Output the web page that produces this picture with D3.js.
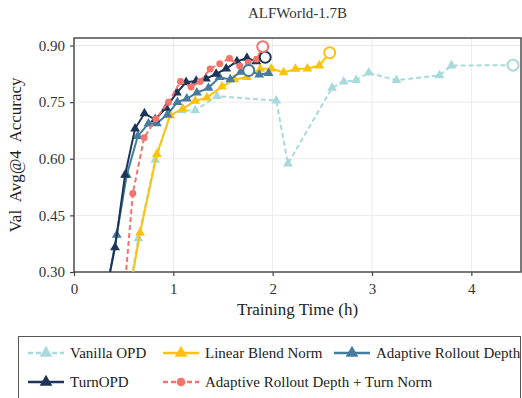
<!DOCTYPE html>
<html>
<head>
<meta charset="utf-8">
<script src="https://cdn.jsdelivr.net/npm/d3@7"></script>
<style>
  body { margin: 0; background: #fff; }
  svg { display: block; }
</style>
</head>
<body>
<svg id="chart" width="522" height="398" font-family="Liberation Serif"></svg>
<script>
// values (hours, accuracy)
const vanillaX = [0.524, 0.648, 0.817, 0.968, 1.086, 1.22, 1.439, 2.036, 2.154, 2.598, 2.715, 2.84, 2.967, 3.246, 3.679, 3.80, 4.42]
const vanillaY = [0.20, 0.389, 0.597, 0.715, 0.728, 0.728, 0.766, 0.754, 0.587, 0.788, 0.804, 0.808, 0.828, 0.808, 0.821, 0.847, 0.848]

const blendX = [0.528, 0.665, 0.834, 0.968, 1.096, 1.22, 1.338, 1.489, 1.613, 1.741, 1.875, 1.986, 2.11, 2.228, 2.349, 2.47, 2.574]
const blendY = [0.20, 0.404, 0.612, 0.715, 0.733, 0.753, 0.762, 0.791, 0.810, 0.816, 0.838, 0.839, 0.829, 0.838, 0.839, 0.847, 0.881]

const depthX = [0.294, 0.430, 0.531, 0.642, 0.749, 0.834, 0.940, 1.041, 1.136, 1.237, 1.354, 1.465, 1.573, 1.678, 1.759, 1.865, 1.959]
const depthY = [0.20, 0.398, 0.557, 0.660, 0.693, 0.694, 0.717, 0.750, 0.759, 0.775, 0.788, 0.816, 0.810, 0.830, 0.834, 0.823, 0.827]

const turnX = [0.286, 0.413, 0.514, 0.615, 0.709, 0.817, 0.927, 1.035, 1.129, 1.23, 1.328, 1.431, 1.532, 1.640, 1.741, 1.835, 1.925]
const turnY = [0.20, 0.365, 0.557, 0.680, 0.720, 0.704, 0.735, 0.775, 0.803, 0.806, 0.812, 0.825, 0.839, 0.858, 0.867, 0.858, 0.869]

const bothX = [0.491, 0.592, 0.706, 0.824, 0.951, 1.072, 1.179, 1.270, 1.371, 1.467, 1.565, 1.668, 1.754, 1.838, 1.900]
const bothY = [0.20, 0.508, 0.656, 0.706, 0.750, 0.805, 0.790, 0.805, 0.838, 0.852, 0.866, 0.846, 0.855, 0.864, 0.897]

// index of the point marked with an open circle (best value)
const bestIdx = [16, 16, 14, 16, 14]

const seriesNames = ['Vanilla OPD', 'Linear Blend Norm', 'Adaptive Rollout Depth', 'TurnOPD', 'Adaptive Rollout Depth + Turn Norm']
const colors = ['#a8dadc', '#ffc20a', '#457b9d', '#1d3557', '#f4736b']
const xTicks = [0, 1, 2, 3, 4]
const yTicks = [0.30, 0.45, 0.60, 0.75, 0.90]

const FONT = 'Liberation Serif'

const series = [
  { xs: vanillaX, ys: vanillaY, dash: '5,3', marker: 'tri' },
  { xs: blendX, ys: blendY, dash: null, marker: 'tri' },
  { xs: depthX, ys: depthY, dash: null, marker: 'tri' },
  { xs: turnX, ys: turnY, dash: null, marker: 'tri' },
  { xs: bothX, ys: bothY, dash: '5,3', marker: 'dot' }
].map((s, i) => ({
  ...s,
  name: seriesNames[i],
  color: colors[i],
  best: bestIdx[i],
  pts: s.xs.map((x, j) => ({ x, y: s.ys[j] }))
}))

const svg = d3.select('#chart')
const margin = { left: 74, top: 38, right: 1, bottom: 126 }
const W = 522, H = 398
const x = d3.scaleLinear().domain([0, 4.5]).range([margin.left, W - margin.right])
const y = d3.scaleLinear().domain([0.30, 0.92]).range([H - margin.bottom, margin.top])

svg.append('defs').append('clipPath').attr('id', 'plotclip')
  .append('rect')
  .attr('x', x(0)).attr('y', y(0.92))
  .attr('width', x(4.5) - x(0)).attr('height', y(0.30) - y(0.92))

// title
svg.append('text')
  .attr('x', (x(0) + x(4.5)) / 2).attr('y', 18)
  .attr('text-anchor', 'middle')
  .attr('font-family', FONT)
  .attr('font-size', 15).attr('fill', '#333')
  .text('ALFWorld-1.7B')

// grid
const grid = svg.append('g')
grid.selectAll('.gx').data(xTicks).enter().append('line')
  .attr('x1', d => x(d)).attr('x2', d => x(d))
  .attr('y1', y(0.92)).attr('y2', y(0.30))
  .attr('stroke', '#ebebeb').attr('stroke-width', 1)
grid.selectAll('.gy').data(yTicks).enter().append('line')
  .attr('x1', x(0)).attr('x2', x(4.5))
  .attr('y1', d => y(d)).attr('y2', d => y(d))
  .attr('stroke', '#ebebeb').attr('stroke-width', 1)

// axes
const xAxis = svg.append('g')
  .attr('transform', `translate(0,${y(0.30)})`)
  .call(d3.axisBottom(x).tickValues(xTicks).tickFormat(d3.format('d')).tickSize(4).tickPadding(7))
const yAxis = svg.append('g')
  .attr('transform', `translate(${x(0)},0)`)
  .call(d3.axisLeft(y).tickValues(yTicks).tickFormat(d3.format('.2f')).tickSize(4).tickPadding(5))
;[xAxis, yAxis].forEach(a => {
  a.attr('font-family', FONT)
  a.select('.domain').remove()
  a.selectAll('.tick line').attr('stroke', '#444').attr('stroke-width', 1.2)
  a.selectAll('.tick text').attr('fill', '#333').attr('font-size', 15)
})

// frame
svg.append('rect')
  .attr('x', x(0)).attr('y', y(0.92))
  .attr('width', x(4.5) - x(0)).attr('height', y(0.30) - y(0.92))
  .attr('fill', 'none').attr('stroke', '#4d4d4d').attr('stroke-width', 1.5)

svg.append('text')
  .attr('x', (x(0) + x(4.5)) / 2).attr('y', 315)
  .attr('text-anchor', 'middle').attr('font-size', 17).attr('fill', '#222')
  .attr('font-family', FONT)
  .text('Training Time (h)')

svg.append('text')
  .attr('transform', `translate(21,${(y(0.30) + y(0.92)) / 2}) rotate(-90)`)
  .attr('text-anchor', 'middle').attr('font-size', 17).attr('fill', '#222')
  .attr('font-family', FONT)
  .attr('xml:space', 'preserve')
  .text('Val  Avg@4  Accuracy')

const tri = d3.symbol().type(d3.symbolTriangle).size(42)
const dot = d3.symbol().type(d3.symbolCircle).size(38)

const plot = svg.append('g').attr('clip-path', 'url(#plotclip)')
const line = d3.line().x(d => x(d.x)).y(d => y(d.y))

series.forEach(s => {
  const g = plot.append('g')
  g.append('path')
    .datum(s.pts)
    .attr('d', line)
    .attr('fill', 'none')
    .attr('stroke', s.color)
    .attr('stroke-width', 2)
    .attr('stroke-dasharray', s.dash)
  g.selectAll('.m').data(s.pts.filter((d, j) => j !== s.best)).enter().append('path')
    .attr('transform', d => `translate(${x(d.x)},${y(d.y)})`)
    .attr('d', s.marker === 'tri' ? tri : dot)
    .attr('fill', s.color)
})

// open circles on best points
series.forEach(s => {
  const b = s.pts[s.best]
  svg.append('circle')
    .attr('cx', x(b.x)).attr('cy', y(b.y)).attr('r', 5.5)
    .attr('fill', '#fff').attr('stroke', s.color).attr('stroke-width', 2)
})

// legend
const legend = svg.append('g')
legend.append('rect')
  .attr('x', 18.5).attr('y', 336.5).attr('width', 502).attr('height', 70)
  .attr('fill', '#fff').attr('stroke', '#555').attr('stroke-width', 1)

const legendPos = [[28, 353], [163, 353], [334, 353], [28, 382], [163, 382]]
series.forEach((s, i) => {
  const [lx, ly] = legendPos[i]
  const g = legend.append('g').attr('transform', `translate(${lx},${ly})`)
  g.append('line').attr('x1', 0).attr('x2', 36).attr('y1', 0).attr('y2', 0)
    .attr('stroke', s.color).attr('stroke-width', 2.5)
    .attr('stroke-dasharray', s.dash)
  g.append('path').attr('transform', 'translate(18,0)')
    .attr('d', (s.marker === 'tri' ? d3.symbol().type(d3.symbolTriangle).size(70) : d3.symbol().type(d3.symbolCircle).size(60))())
    .attr('fill', s.color)
  g.append('text').attr('x', 42).attr('y', 5)
    .attr('font-family', FONT)
    .attr('font-size', 15).attr('fill', '#222')
    .text(s.name)
})
</script>
</body>
</html>
